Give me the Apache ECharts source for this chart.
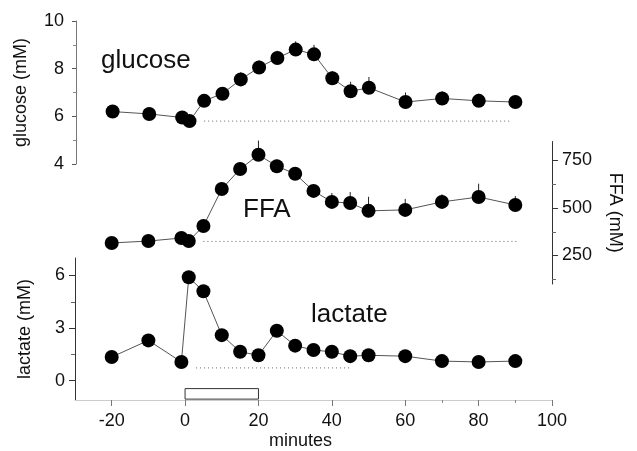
<!DOCTYPE html>
<html>
<head>
<meta charset="utf-8">
<script src="https://cdn.jsdelivr.net/npm/echarts@6/dist/echarts.min.js"></script>
<style>
  html, body { margin: 0; padding: 0; background: #fff; }
  #chart { width: 637px; height: 451px; }
</style>
</head>
<body>
<div id="chart"></div>
<script>
// sampling times (minutes)
const minutes = [-20, -10, -1, 1, 5, 10, 15, 20, 25, 30, 35, 40, 45, 50, 60, 70, 80, 90];

const glucose = [6.2, 6.1, 5.95, 5.8, 6.65, 6.95, 7.55, 8.05, 8.45, 8.8, 8.6, 7.6, 7.05, 7.2, 6.6, 6.75, 6.65, 6.6];
const glucoseErr = [0.2, 0.2, 0.2, 0.2, 0.25, 0.25, 0.3, 0.3, 0.3, 0.35, 0.4, 0.3, 0.4, 0.45, 0.4, 0.3, 0.3, 0.25];

const ffa = [316, 326, 342, 326, 405, 600, 705, 780, 720, 680, 590, 532, 526, 485, 490, 532, 558, 516];
const ffaErr = [20, 20, 20, 20, 30, 35, 35, 75, 35, 35, 35, 47, 58, 74, 58, 40, 70, 47];

const lactate = [1.35, 2.3, 1.07, 5.9, 5.1, 2.6, 1.65, 1.45, 2.85, 2.0, 1.75, 1.65, 1.4, 1.45, 1.4, 1.12, 1.07, 1.12];
const lactateErr = [0.2, 0.2, 0.2, 0.25, 0.25, 0.2, 0.2, 0.2, 0.2, 0.2, 0.2, 0.2, 0.2, 0.2, 0.2, 0.2, 0.2, 0.2];

// dotted baseline: [value, from minute, to minute]
const glucoseBase = [5.8, 5, 89];
const ffaBase = [324, 5, 91];
const lactateBase = [0.73, 3, 45];

// infusion window (minutes) shown as the open box on the time axis
const infusion = [0, 20];

const xTicks = [-20, 0, 20, 40, 60, 80, 100];
const xMinor = [70, 90];
const ffaTicks = [250, 500, 750];
const ffaMinor = [125, 375, 625];
const lactateTicks = [0, 3, 6];
const lactateMinor = [1.5, 4.5];

const FONT = "Liberation Sans, Arial, sans-serif";
const AX = "#333";

function pts(vals) {
  return minutes.map((m, i) => [m, vals[i]]);
}

function errSeries(vals, errs, idx) {
  return {
    type: "custom",
    xAxisIndex: idx,
    yAxisIndex: idx,
    z: 1,
    silent: true,
    data: minutes.map((m, i) => [m, vals[i], vals[i] + errs[i]]),
    renderItem: (params, api) => {
      const a = api.coord([api.value(0), api.value(1)]);
      const b = api.coord([api.value(0), api.value(2)]);
      return {
        type: "line",
        shape: { x1: a[0], y1: a[1], x2: b[0], y2: b[1] },
        style: { stroke: "#222", lineWidth: 1 },
      };
    },
  };
}

function lineSeries(vals, idx, extra) {
  return Object.assign({
    type: "line",
    xAxisIndex: idx,
    yAxisIndex: idx,
    z: 3,
    data: pts(vals),
    symbol: "circle",
    symbolSize: 14,
    itemStyle: { color: "#000" },
    lineStyle: { color: "#555", width: 1 },
  }, extra || {});
}

function baseSeries(base, idx) {
  return {
    type: "line",
    xAxisIndex: idx,
    yAxisIndex: idx,
    z: 2,
    symbol: "none",
    data: [[base[1], base[0]], [base[2], base[0]]],
    lineStyle: { color: "#666", width: 1, type: [1, 3] },
  };
}

function hiddenX(idx) {
  return { type: "value", gridIndex: idx, min: -30, max: 100, show: false };
}

function minorAxis(idx, pos, min, max, ticks) {
  return {
    type: "value",
    gridIndex: idx,
    position: pos,
    min: min,
    max: max,
    axisLine: { show: false, onZero: false },
    axisTick: { customValues: ticks, length: 4, lineStyle: { color: "#666" } },
    axisLabel: { show: false },
    splitLine: { show: false },
  };
}

const chart = echarts.init(document.getElementById("chart"));

chart.setOption({
  animation: false,
  backgroundColor: "#fff",
  textStyle: { fontFamily: FONT },
  grid: [
    { left: 76, right: 85, top: 21, height: 143 },
    { left: 75, right: 85, top: 141.5, height: 142.5 },
    { left: 75, right: 85, top: 258, height: 145 },
  ],
  xAxis: [
    hiddenX(0),
    hiddenX(1),
    {
      type: "value",
      gridIndex: 2,
      min: -30,
      max: 100,
      name: "minutes",
      nameLocation: "middle",
      nameGap: 32,
      nameTextStyle: { fontSize: 18, color: "#111", padding: [0, 26, 0, 0] },
      axisLine: { onZero: false, lineStyle: { color: "#ccc", width: 1 } },
      axisTick: { customValues: xTicks, length: 6, lineStyle: { color: "#777" } },
      axisLabel: { customValues: xTicks, margin: 12, fontSize: 18, color: "#111" },
      splitLine: { show: false },
    },
    Object.assign(minorAxis(2, "bottom", -30, 100, xMinor), {
      axisTick: { customValues: xMinor, length: 3, lineStyle: { color: "#888" } },
    }),
  ],
  yAxis: [
    {
      type: "value",
      gridIndex: 0,
      position: "left",
      min: 4,
      max: 10,
      interval: 2,
      name: "glucose (mM)",
      nameLocation: "middle",
      nameGap: 46,
      nameTextStyle: { fontSize: 18, color: "#111" },
      axisLine: { show: true, onZero: false, lineStyle: { color: "#777" } },
      axisTick: { length: 4, lineStyle: { color: "#555" } },
      minorTick: { show: true, splitNumber: 2, length: 3, lineStyle: { color: "#888" } },
      axisLabel: { fontSize: 18, color: "#111", margin: 12 },
      splitLine: { show: false },
      minorSplitLine: { show: false },
    },
    {
      type: "value",
      gridIndex: 1,
      position: "right",
      min: 100,
      max: 850,
      name: "FFA (mM)",
      nameLocation: "middle",
      nameRotate: -90,
      nameGap: 54,
      nameTextStyle: { fontSize: 18, color: "#111" },
      axisLine: { show: true, onZero: false, lineStyle: { color: AX } },
      axisTick: { customValues: ffaTicks, length: 6, lineStyle: { color: AX } },
      axisLabel: { customValues: ffaTicks, fontSize: 18, color: "#111", margin: 10 },
      splitLine: { show: false },
    },
    {
      type: "value",
      gridIndex: 2,
      position: "left",
      min: -1.1,
      max: 7,
      name: "lactate (mM)",
      nameLocation: "middle",
      nameGap: 41,
      nameTextStyle: { fontSize: 18, color: "#111" },
      axisLine: { show: true, onZero: false, lineStyle: { color: AX } },
      axisTick: { customValues: lactateTicks, length: 6, lineStyle: { color: AX } },
      axisLabel: { customValues: lactateTicks, fontSize: 18, color: "#111", margin: 10 },
      splitLine: { show: false },
    },
    minorAxis(1, "right", 100, 850, ffaMinor),
    minorAxis(2, "left", -1.1, 7, lactateMinor),
  ],
  graphic: [
    { type: "text", left: 101, top: 48, style: { text: "glucose", fontSize: 26, fontFamily: FONT, fill: "#111" } },
    { type: "text", left: 243, top: 197, style: { text: "FFA", fontSize: 26, fontFamily: FONT, fill: "#111" } },
    { type: "text", left: 311, top: 302, style: { text: "lactate", fontSize: 26, fontFamily: FONT, fill: "#111" } },
  ],
  series: [
    baseSeries(glucoseBase, 0),
    errSeries(glucose, glucoseErr, 0),
    lineSeries(glucose, 0),
    baseSeries(ffaBase, 1),
    errSeries(ffa, ffaErr, 1),
    lineSeries(ffa, 1),
    baseSeries(lactateBase, 2),
    errSeries(lactate, lactateErr, 2),
    lineSeries(lactate, 2, {
      markArea: {
        silent: true,
        itemStyle: { color: "#fff", borderColor: "#333", borderWidth: 1 },
        data: [[{ coord: [infusion[0], -0.45] }, { coord: [infusion[1], -1.05] }]],
      },
    }),
  ],
});
</script>
</body>
</html>
